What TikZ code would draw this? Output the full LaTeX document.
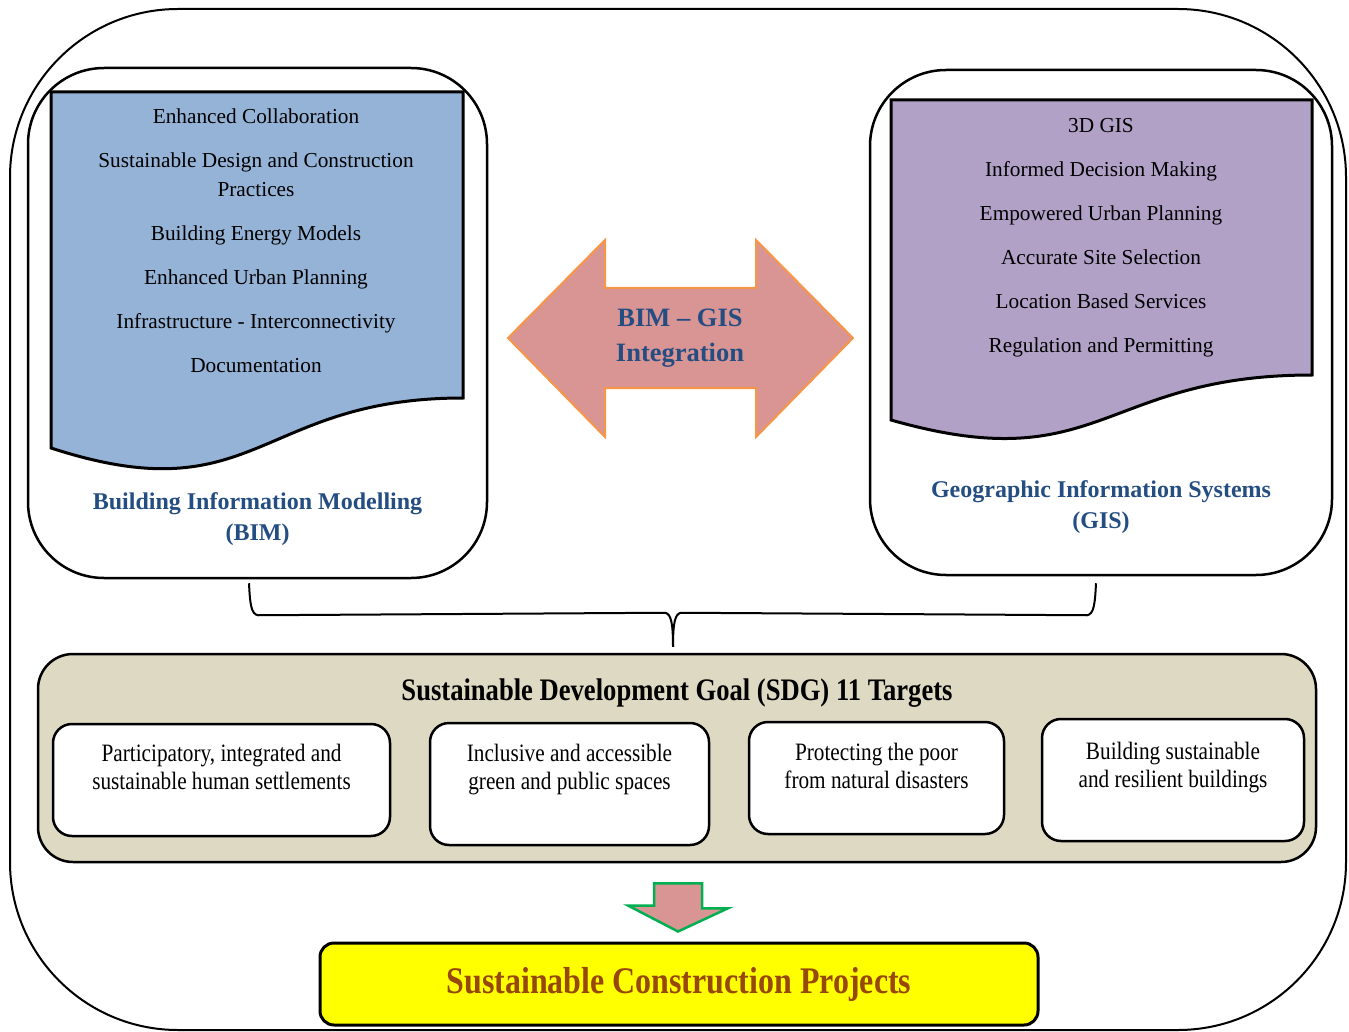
\documentclass[tikz,border=0pt]{standalone}
\usepackage{fontspec}
\setmainfont{Liberation Serif}
\newfontfamily\condserif[FakeStretch=0.85]{Liberation Serif}
\usepackage{tikz}
\usetikzlibrary{positioning,calc}
\usepackage{xcolor}

\definecolor{bimblue}{RGB}{149,179,215}
\definecolor{gispurple}{RGB}{178,161,199}
\definecolor{arrowpink}{RGB}{217,149,148}
\definecolor{arroworange}{RGB}{247,150,70}
\definecolor{arrowgreen}{RGB}{0,176,80}
\definecolor{titleblue}{RGB}{36,77,130}
\definecolor{sdgbeige}{RGB}{221,217,195}
\definecolor{projbrown}{RGB}{152,72,6}
\definecolor{projyellow}{RGB}{255,255,0}

\tikzset{
  frame/.style={draw, line width=2pt, rounded corners=168pt},
  panel/.style={draw, fill=white, line width=2.5pt, rounded corners=76pt, inner sep=0pt},
  docshape/.style={draw, line width=3pt},
  itemtext/.style={align=center, inner sep=0pt, font=\fontsize{21.3}{29}\selectfont},
  paneltitle/.style={align=center, inner sep=0pt, text=titleblue, font=\fontsize{24}{31.5}\selectfont\bfseries},
  bigarrow/.style={draw=arroworange, fill=arrowpink, line width=2pt},
  arrowtext/.style={align=center, inner sep=0pt, text=titleblue, font=\fontsize{26.5}{35}\selectfont\bfseries},
  brace/.style={draw, line width=2pt},
  sdgbox/.style={draw, fill=sdgbeige, line width=2.5pt, rounded corners=35pt, inner sep=0pt},
  target/.style={draw, fill=white, line width=2.5pt, rounded corners=19pt, inner sep=0pt},
  targettext/.style={align=center, inner sep=0pt, font=\condserif\fontsize{25}{28}\selectfont},
  downarrow/.style={draw=arrowgreen, fill=arrowpink, line width=2.5pt},
  projbox/.style={draw, fill=projyellow, line width=3pt, rounded corners=14pt, text=projbrown,
    font=\condserif\bfseries\fontsize{37.6}{40}\selectfont}
}

\begin{document}
\begin{tikzpicture}[x=1pt,y=-1pt]
\useasboundingbox (0,0) rectangle (1349,1032);
\draw[frame] (10,9) rectangle (1346,1030);

\node[panel, minimum width=459pt, minimum height=510pt] (bim) at (257.5,323) {};
\node[panel, minimum width=462pt, minimum height=505pt] (gis) at (1101,322.5) {};
\draw[docshape, fill=bimblue] (51,92) -- (463,92) -- (463,398) .. controls (257,398) and (257,515) .. (51,448) -- cycle;
\draw[docshape, fill=gispurple] (891,100) -- (1312,100) -- (1312,375) .. controls (1101,375) and (1101,480) .. (891,420) -- cycle;

\node[itemtext] (bimlist) at (256,241) {Enhanced Collaboration\\[15pt]
  Sustainable Design and Construction\\ Practices\\[15pt]
  Building Energy Models\\[15pt]
  Enhanced Urban Planning\\[15pt]
  Infrastructure - Interconnectivity\\[15pt]
  Documentation};
\node[itemtext] (gislist) at (1101,237.5) {3D GIS\\[15pt]
  Informed Decision Making\\[15pt]
  Empowered Urban Planning\\[15pt]
  Accurate Site Selection\\[15pt]
  Location Based Services\\[15pt]
  Regulation and Permitting};
\node[paneltitle, above=33pt of bim.south] (bimtitle) {Building Information Modelling\\(BIM)};
\node[paneltitle, above=42pt of gis.south] (gistitle) {Geographic Information Systems\\(GIS)};

\draw[bigarrow] (508,338) -- (605,240) -- (605,288) -- (756,288) -- (756,240) -- (853,338)
  -- (756,437) -- (756,388) -- (605,388) -- (605,437) -- cycle;
\node[arrowtext] (integ) at (680,338) {BIM – GIS\\Integration};

\node[sdgbox, minimum width=1278pt, minimum height=208pt] (sdg) at (677,758) {};
\node[below=26pt of sdg.north, inner sep=0pt, font=\condserif\bfseries\fontsize{31.3}{34}\selectfont] (sdgtitle)
  {Sustainable Development Goal (SDG) 11 Targets};

\coordinate (bl) at ([xshift=-8.5pt,yshift=-4pt]bim.south);
\coordinate (br) at ([xshift=-5pt,yshift=-7pt]gis.south);
\coordinate (bm) at ([xshift=-4pt,yshift=6pt]sdg.north);
\draw[brace] (bl) .. controls ($(bl)+(1,20)$) and ($(bl)+(2,31)$) .. ($(bl)+(9,32)$) -- ($(bm)+(-8,-34)$)
  .. controls ($(bm)+(-2,-33)$) and ($(bm)+(0,-24)$) .. (bm);
\draw[brace] (br) .. controls ($(br)+(-1,20)$) and ($(br)+(-2,31)$) .. ($(br)+(-9,32)$) -- ($(bm)+(8,-34)$)
  .. controls ($(bm)+(2,-33)$) and ($(bm)+(0,-24)$) .. (bm);

\node[target, minimum width=337pt, minimum height=112pt] (t1) at (221.5,780) {};
\node[target, minimum width=279pt, minimum height=122pt] (t2) at (569.5,784) {};
\node[target, minimum width=255pt, minimum height=112pt] (t3) at (876.5,778) {};
\node[target, minimum width=262pt, minimum height=122pt] (t4) at (1173,780) {};
\node[targettext] (t1text) at ([yshift=13pt]t1.center) {Participatory, integrated and\\sustainable human settlements};
\node[targettext] (t2text) at ([yshift=14pt]t2.center) {Inclusive and accessible\\green and public spaces};
\node[targettext] (t3text) at ([yshift=12pt]t3.center) {Protecting the poor\\from natural disasters};
\node[targettext] (t4text) at ([yshift=12pt]t4.center) {Building sustainable\\and resilient buildings};

\node[projbox, minimum width=718pt, minimum height=82pt] (proj) at (679,984) {Sustainable Construction Projects};
\draw[downarrow] ($(sdg.south)+(-23,20)$) -- ++(48,0) -- ++(0,25) -- ++(26,0) -- ($(proj.north)+(-1,-10)$)
  -- ++(-50,-26) -- ++(26,0) -- cycle;
\end{tikzpicture}
\end{document}
